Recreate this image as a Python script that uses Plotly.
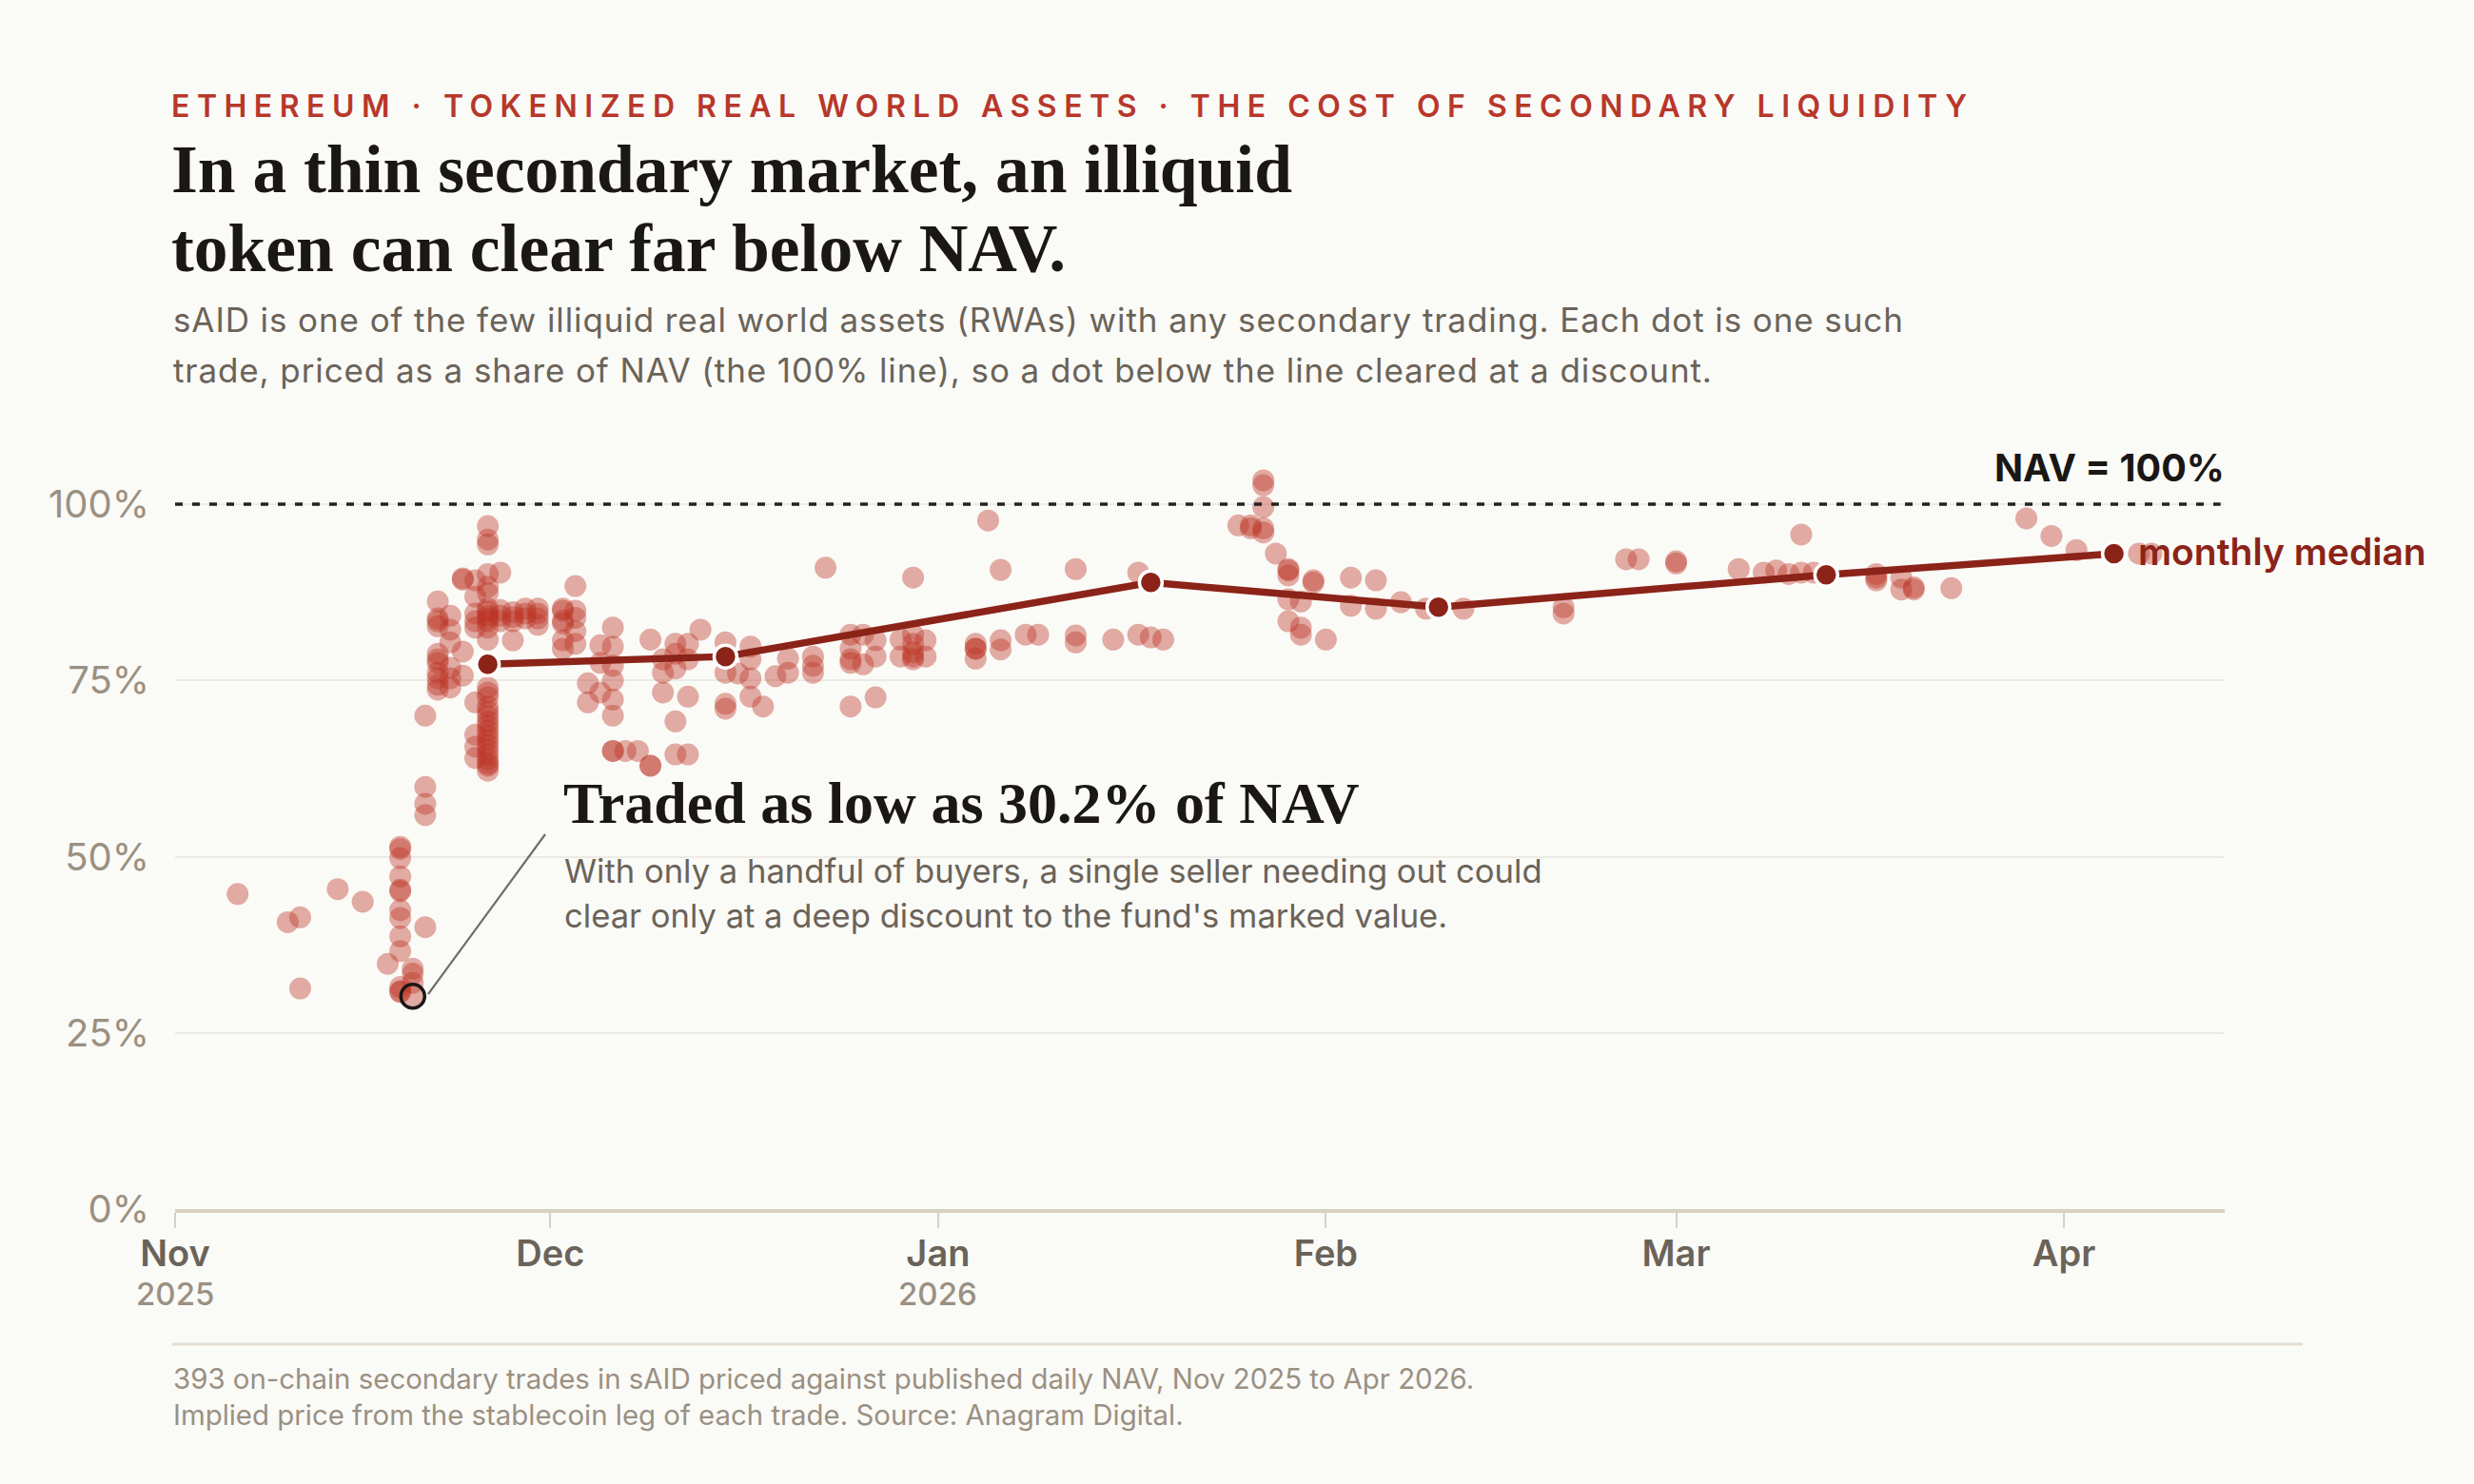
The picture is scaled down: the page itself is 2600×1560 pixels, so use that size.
import plotly.graph_objects as go

# ---------------- data ----------------
group_dates = [
    "2025-11-06", "2025-11-10", "2025-11-11", "2025-11-14", "2025-11-16", "2025-11-18",
    "2025-11-19", "2025-11-20", "2025-11-21", "2025-11-22", "2025-11-23", "2025-11-24",
    "2025-11-25", "2025-11-26", "2025-11-27", "2025-11-28", "2025-11-29", "2025-11-30",
    "2025-12-02", "2025-12-03", "2025-12-04", "2025-12-05", "2025-12-06", "2025-12-07",
    "2025-12-08", "2025-12-09", "2025-12-10", "2025-12-11", "2025-12-12", "2025-12-13",
    "2025-12-15", "2025-12-16", "2025-12-17", "2025-12-18", "2025-12-19", "2025-12-20",
    "2025-12-22", "2025-12-23", "2025-12-25", "2025-12-26", "2025-12-27", "2025-12-29",
    "2025-12-30", "2025-12-31", "2026-01-04", "2026-01-05", "2026-01-06", "2026-01-08",
    "2026-01-09", "2026-01-12", "2026-01-15", "2026-01-17", "2026-01-18", "2026-01-19",
    "2026-01-25", "2026-01-26", "2026-01-27", "2026-01-28", "2026-01-29", "2026-01-30",
    "2026-01-31", "2026-02-01", "2026-02-03", "2026-02-05", "2026-02-07", "2026-02-09",
    "2026-02-12", "2026-02-20", "2026-02-25", "2026-02-26", "2026-03-01", "2026-03-06",
    "2026-03-08", "2026-03-09", "2026-03-10", "2026-03-11", "2026-03-12", "2026-03-17",
    "2026-03-19", "2026-03-20", "2026-03-23", "2026-03-29", "2026-03-31", "2026-04-02",
    "2026-04-07", "2026-04-08",
]
group_pct = [
    [44.7], [40.7], [41.4, 31.3], [45.4], [43.6], [34.8],
    [51.4, 51.1, 49.8, 47.2, 45.3, 45.1, 42.4, 41.3, 38.7, 36.6, 31.5, 30.9, 30.8],
    [34.1, 33.4, 32.1, 30.2],
    [70.0, 59.9, 57.5, 55.9, 40.0],
    [86.2, 83.8, 83.4, 82.7, 78.8, 78.0, 77.5, 76.1, 75.3, 74.4, 73.7],
    [84.2, 82.2, 80.4, 76.8, 75.3, 74.0],
    [89.5, 89.3, 79.1, 75.7],
    [89.2, 86.9, 84.5, 83.4, 82.5, 71.9, 67.3, 65.6, 64.0],
    [96.9, 95.0, 94.3, 90.1, 88.3, 87.4, 85.2, 84.8, 84.2, 83.8, 83.4, 82.5, 80.8,
     74.0, 73.3, 72.6, 71.3, 70.6, 69.9, 69.2, 68.6, 67.9, 67.2, 66.6, 65.9, 65.2,
     64.5, 63.8, 63.2, 62.9, 62.2],
    [90.3, 85.0, 84.2, 83.4],
    [84.7, 84.0, 83.4, 80.7],
    [85.2, 84.5, 83.8],
    [85.2, 84.5, 83.8, 82.9],
    [85.2, 84.9, 83.5, 83.1, 80.7, 79.5],
    [88.4, 84.9, 83.9, 82.0, 80.2],
    [74.6, 71.9],
    [80.0, 77.5, 73.3],
    [82.5, 79.8, 77.1, 75.0, 72.3, 70.0, 65.0, 65.0],
    [65.0],
    [65.0],
    [80.8, 62.9, 62.9],
    [78.0, 76.1, 73.3],
    [80.2, 78.8, 76.7, 69.2, 64.5],
    [80.2, 78.0, 72.7, 64.5],
    [82.2],
    [80.4, 78.5, 76.1, 71.7, 71.0],
    [76.0],
    [79.8, 78.0, 75.3, 72.7],
    [71.3],
    [75.6],
    [78.1, 76.1],
    [78.4, 77.1, 76.1],
    [91.0],
    [81.5, 79.5, 78.0, 77.5, 71.3],
    [81.5, 77.3],
    [80.7, 78.4, 72.6],
    [80.8, 78.4],
    [89.6, 81.5, 80.2, 79.0, 78.4, 78.0],
    [80.7, 78.4],
    [80.2, 79.5, 79.5, 78.1],
    [97.7],
    [90.7, 80.7, 79.4],
    [81.5],
    [81.5],
    [90.8, 81.4, 80.4],
    [80.8],
    [90.3, 81.5],
    [81.1],
    [80.8],
    [97.0],
    [97.0, 96.6],
    [103.4, 102.7, 99.6, 96.6, 96.0],
    [93.0],
    [90.8, 90.6, 89.9, 86.5, 83.4],
    [86.2, 82.5, 81.5],
    [89.2, 88.9],
    [80.8],
    [89.6, 85.6],
    [89.2, 85.2],
    [86.1],
    [85.2],
    [85.2],
    [85.4, 84.5],
    [92.2],
    [92.2],
    [91.9, 91.6],
    [90.8],
    [90.3],
    [90.6],
    [90.1],
    [95.7, 90.3],
    [90.3],
    [90.1, 89.6, 89.2],
    [89.6, 87.9],
    [88.2, 87.9],
    [88.1],
    [98.0],
    [95.5],
    [93.5],
    [93.0],
    [93.0],
]

median_dates = ["2025-11-26", "2025-12-15", "2026-01-18", "2026-02-10", "2026-03-13", "2026-04-05"]
median_pct = [77.3, 78.4, 88.9, 85.4, 90.0, 93.0]

low_date = ["2025-11-20"]
low_pct = [30.2]

month_ticks = ["2025-11-01", "2025-12-01", "2026-01-01", "2026-02-01", "2026-03-01", "2026-04-01"]
month_labels = ["Nov", "Dec", "Jan", "Feb", "Mar", "Apr"]
year_ticks = ["2025-11-01", "2026-01-01"]
year_labels = ["2025", "2026"]
y_ticks = [0, 25, 50, 75, 100]
y_labels = ["0%", "25%", "50%", "75%", "100%"]

trade_dates = [d for d, vals in zip(group_dates, group_pct) for _ in vals]
trade_pct = [v for vals in group_pct for v in vals]

# ---------------- layout geometry (pixels) ----------------
W, H = 2600, 1560
L, R, T, B = 184, 2338, 456, 1271
BG = "#FAFAF7"
SANS = "Inter, Roboto, sans-serif"
SERIF = "Liberation Serif, DejaVu Serif, serif"


def px(x, y):
    return (x - L) / (R - L), (B - y) / (B - T)


fig = go.Figure()

fig.add_trace(go.Scatter(
    x=trade_dates, y=trade_pct, mode="markers",
    marker=dict(size=23, color="rgba(187,50,35,0.40)", line=dict(width=0)),
    hoverinfo="skip", showlegend=False,
))

fig.add_trace(go.Scatter(
    x=median_dates, y=median_pct, mode="lines+markers",
    line=dict(color="#8B2318", width=7.5),
    marker=dict(size=24, color="#8B2318", line=dict(color="#FFFFFF", width=3.5)),
    hoverinfo="skip", showlegend=False,
))

fig.add_trace(go.Scatter(
    x=low_date, y=low_pct, mode="markers",
    marker=dict(size=25, color="rgba(0,0,0,0)", line=dict(color="#1A1714", width=3.5)),
    hoverinfo="skip", showlegend=False,
))

shapes = []
# NAV dotted line
shapes.append(dict(type="line", xref="paper", yref="y", x0=0, x1=0.998, y0=100, y1=100,
                   line=dict(color="#222222", width=3.5, dash="8px,10px"), layer="above"))
# leader line
x0, y0 = px(450, 1045)
x1, y1 = px(573, 877)
shapes.append(dict(type="line", xref="paper", yref="paper", x0=x0, y0=y0, x1=x1, y1=y1,
                   line=dict(color="#6E6E6E", width=2.2)))
# footer rule
fx0, fy = px(181, 1413)
fx1, _ = px(2420, 1413)
shapes.append(dict(type="line", xref="paper", yref="paper", x0=fx0, x1=fx1, y0=fy, y1=fy,
                   line=dict(color="#E3DDD3", width=3)))

annotations = []


def text(x, y, s, size, color, family=SANS, weight=400, xanchor="left", spacing=None):
    ax, ay = px(x, y)
    if spacing is not None:
        s = f"<span style='letter-spacing:{spacing}px'>{s}</span>"
    annotations.append(dict(
        xref="paper", yref="paper", x=ax, y=ay, text=s, showarrow=False,
        xanchor=xanchor, yanchor="middle", align=xanchor if xanchor != "center" else "center",
        font=dict(family=family, size=size, color=color, weight=weight),
    ))


kicker = "ETHEREUM · TOKENIZED REAL WORLD ASSETS · THE COST OF SECONDARY LIQUIDITY"
text(178, 111, kicker, 32, "#B8372A", weight=600, spacing=7.5)
text(178, 177, "In a thin secondary market, an illiquid", 71.5, "#1A1714", family=SERIF, weight=700)
text(178, 260, "token can clear far below NAV.", 71.5, "#1A1714", family=SERIF, weight=700)
text(180, 336, "sAID is one of the few illiquid real world assets (RWAs) with any secondary trading. Each dot is one such",
     35, "#6B6358", spacing=0.9)
text(180, 389, "trade, priced as a share of NAV (the 100% line), so a dot below the line cleared at a discount.",
     35, "#6B6358", spacing=0.9)
text(2340, 492, "NAV = 100%", 39.5, "#1A1714", weight=700, xanchor="right")
text(2245, 579, "monthly median", 39, "#8B2318", weight=600)
text(590, 844, "Traded as low as 30.2% of NAV", 62, "#1A1714", family=SERIF, weight=700)
text(591, 915, "With only a handful of buyers, a single seller needing out could", 34.6, "#6B6358")
text(591, 962, "clear only at a deep discount to the fund's marked value.", 34.6, "#6B6358")
text(180, 1449, "393 on-chain secondary trades in sAID priced against published daily NAV, Nov 2025 to Apr 2026.",
     29.4, "#9A9082")
text(180, 1487, "Implied price from the stablecoin leg of each trade. Source: Anagram Digital.", 29.4, "#9A9082")

for d, lab in zip(year_ticks, year_labels):
    _, ay = px(0, 1360)
    annotations.append(dict(
        xref="x", yref="paper", x=d, y=ay, text=lab, showarrow=False,
        xanchor="center", yanchor="middle",
        font=dict(family=SANS, size=33, color="#9A9082", weight=500),
    ))

fig.update_layout(
    width=W, height=H,
    margin=dict(l=L, r=W - R, t=T, b=H - B, pad=0),
    paper_bgcolor=BG, plot_bgcolor=BG,
    font=dict(family=SANS),
    shapes=shapes, annotations=annotations,
    xaxis=dict(
        type="date", range=["2025-11-01", "2026-04-13 20:30"],
        tickvals=month_ticks, ticktext=month_labels,
        tickfont=dict(family=SANS, size=38, color="#6B6358", weight=600),
        showgrid=False, zeroline=False,
        showline=True, linecolor="#D8D0C3", linewidth=4,
        ticks="outside", ticklen=16, tickwidth=2, tickcolor="#D8D0C3",
        ticklabelstandoff=-6,
    ),
    yaxis=dict(
        range=[0, 110], tickvals=y_ticks, ticktext=y_labels,
        tickfont=dict(family=SANS, size=40, color="#9A9082"),
        showgrid=True, gridcolor="#ECEAE5", gridwidth=2,
        zeroline=False, showline=False, ticks="",
        ticklabelstandoff=26,
    ),
)

fig.write_html("out.html")
